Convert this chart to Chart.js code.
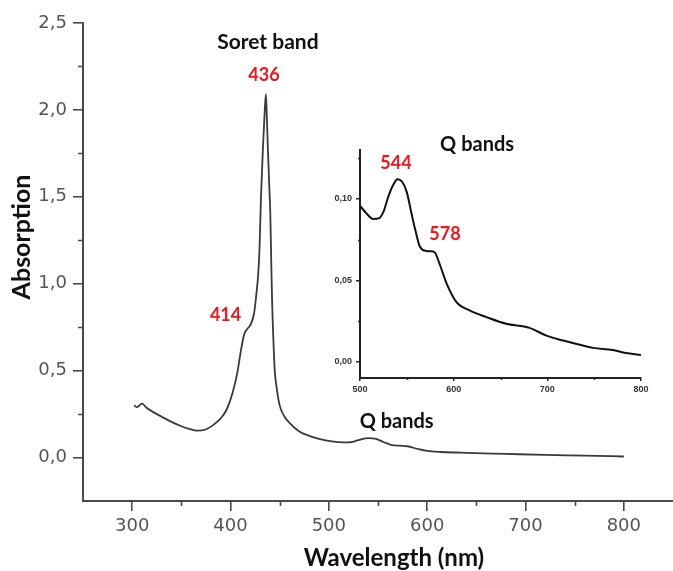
<!DOCTYPE html>
<html>
<head>
<meta charset="utf-8">
<title>Absorption spectrum</title>
<script src="https://cdn.jsdelivr.net/npm/chart.js@4.4.0/dist/chart.umd.min.js"></script>
<style>
    html, body { margin: 0; padding: 0; background: #fff; }
    #wrap { position: relative; width: 673px; height: 571px; }
    #main-chart { position: absolute; left: 0; top: 0; }
    #inset-chart { position: absolute; left: 320px; top: 128px; }
</style>
</head>
<body>
<div id="wrap">
    <canvas id="main-chart" width="673" height="571"></canvas>
    <canvas id="inset-chart" width="345" height="282"></canvas>
</div>
<script>
// Full spectrum
const wavelength = [302, 305, 310, 315, 322, 330, 340, 350, 358, 366, 374, 382, 390, 396, 402, 407, 411, 414, 417, 420, 424, 426.3, 428, 429.5, 431, 433, 434.5, 436, 437, 438, 439.3, 440.5, 441.5, 442.3, 443, 444, 445, 447, 450, 455, 460, 470, 480, 490, 503, 515, 522, 530, 540, 548, 556, 564, 572, 580, 590, 600, 615, 640, 680, 720, 760, 800];
const absorption = [0.30, 0.29, 0.31, 0.285, 0.26, 0.235, 0.205, 0.18, 0.165, 0.155, 0.16, 0.185, 0.225, 0.275, 0.37, 0.49, 0.63, 0.71, 0.74, 0.76, 0.83, 0.94, 1.04, 1.2, 1.5, 1.78, 1.96, 2.09, 1.95, 1.78, 1.58, 1.4, 1.11, 0.9, 0.77, 0.62, 0.5, 0.4, 0.3, 0.235, 0.2, 0.15, 0.125, 0.108, 0.093, 0.087, 0.088, 0.1, 0.112, 0.107, 0.088, 0.072, 0.068, 0.065, 0.05, 0.038, 0.032, 0.027, 0.021, 0.015, 0.011, 0.006];

// Q band region (inset)
const qWavelength = [500, 507, 514, 520, 525, 530, 535, 540, 545, 550, 555, 559, 564, 571, 576, 580, 585, 592.5, 603, 617, 635, 656, 681, 699, 717, 738, 749, 770, 781, 800];
const qAbsorption = [0.0957, 0.091, 0.0877, 0.088, 0.092, 0.101, 0.108, 0.112, 0.1105, 0.104, 0.091, 0.081, 0.0706, 0.068, 0.0678, 0.067, 0.06, 0.048, 0.0366, 0.0315, 0.0274, 0.0233, 0.0208, 0.016, 0.013, 0.0099, 0.0085, 0.0072, 0.0057, 0.0041];

// Tick values
const mainXTicks = [300, 400, 500, 600, 700, 800];
const mainXMinor = [350, 450, 550, 650, 750];
const mainYTicks = [0, 0.5, 1.0, 1.5, 2.0, 2.5];
const mainYMinor = [0.25, 0.75, 1.25, 1.75, 2.25];
const qXTicks = [500, 600, 700, 800];
const qXMinor = [550, 650, 750];
const qYTicks = [0, 0.05, 0.10];
const qYMinor = [0.025, 0.075, 0.125];

const TITLE_FONT = 'Lato, "Open Sans", sans-serif';

// Draws short minor tick marks and free text (peak labels, axis titles)
const extras = {
    id: 'extras',
    afterDraw(chart, args, opts) {
        const ctx = chart.ctx;
        const x = chart.scales.x, y = chart.scales.y;
        ctx.save();
        ctx.strokeStyle = opts.tickColor;
        ctx.lineWidth = opts.tickWidth;
        ctx.beginPath();
        (opts.xMinor || []).forEach(v => {
            const px = Math.round(x.getPixelForValue(v)) + 0.5;
            ctx.moveTo(px, x.top);
            ctx.lineTo(px, x.top + opts.minorLength);
        });
        (opts.yMinor || []).forEach(v => {
            const py = Math.round(y.getPixelForValue(v)) + 0.5;
            ctx.moveTo(y.right, py);
            ctx.lineTo(y.right - opts.minorLength, py);
        });
        ctx.stroke();

        ctx.textAlign = 'center';
        ctx.textBaseline = 'middle';
        (opts.labels || []).forEach(t => {
            ctx.font = t.font;
            ctx.fillStyle = t.color;
            ctx.fillText(t.text, x.getPixelForValue(t.x), y.getPixelForValue(t.y));
        });
        (opts.titles || []).forEach(t => {
            ctx.save();
            ctx.font = t.font;
            ctx.fillStyle = t.color;
            ctx.translate(t.px, t.py);
            ctx.rotate(t.rotate || 0);
            ctx.fillText(t.text, 0, 0);
            ctx.restore();
        });
        ctx.restore();
    }
};

function useTicks(values) {
    return scale => { scale.ticks = values.map(v => ({ value: v })); };
}

// Main spectrum
new Chart(document.getElementById('main-chart'), {
    type: 'line',
    data: {
        datasets: [{
            data: wavelength.map((w, i) => ({ x: w, y: absorption[i] })),
            borderColor: '#3a3a3a',
            borderWidth: 1.8,
            pointRadius: 0,
            cubicInterpolationMode: 'monotone',
            fill: false
        }]
    },
    options: {
        responsive: false,
        animation: false,
        layout: { padding: { top: 23, right: 0, bottom: 0, left: 0 } },
        plugins: {
            legend: { display: false },
            tooltip: { enabled: false },
            extras: {
                tickColor: '#4a4a4a',
                tickWidth: 1.6,
                minorLength: 5,
                xMinor: mainXMinor,
                yMinor: mainYMinor,
                labels: [
                    { text: 'Soret band', x: 438, y: 2.39, font: 'bold 21px ' + TITLE_FONT, color: '#111' },
                    { text: '436', x: 434, y: 2.2, font: 'bold 18px ' + TITLE_FONT, color: '#f5141a' },
                    { text: '414', x: 395, y: 0.82, font: 'bold 18px ' + TITLE_FONT, color: '#f5141a' },
                    { text: 'Q bands', x: 569, y: 0.205, font: 'bold 20px ' + TITLE_FONT, color: '#111' }
                ],
                titles: [
                    { text: 'Wavelength (nm)', px: 394, py: 558, font: 'bold 24px ' + TITLE_FONT, color: '#111' },
                    { text: 'Absorption', px: 22, py: 237, rotate: -Math.PI / 2, font: 'bold 25px ' + TITLE_FONT, color: '#111' }
                ]
            }
        },
        scales: {
            x: {
                type: 'linear',
                min: 250,
                max: 850,
                afterFit: scale => { scale.height = 70; },
                afterBuildTicks: useTicks(mainXTicks),
                border: { color: '#4a4a4a', width: 2 },
                grid: { drawOnChartArea: false, tickLength: 10, color: '#4a4a4a', lineWidth: 1.6 },
                ticks: { color: '#555', padding: 5, font: { family: 'DejaVu Sans', size: 18 }, maxRotation: 0 }
            },
            y: {
                min: -0.25,
                max: 2.5,
                afterFit: scale => { scale.width = 83; },
                afterBuildTicks: useTicks(mainYTicks),
                border: { color: '#4a4a4a', width: 2 },
                grid: { drawOnChartArea: false, tickLength: 10, color: '#4a4a4a', lineWidth: 1.6 },
                ticks: {
                    color: '#555',
                    padding: 6,
                    font: { family: 'DejaVu Sans', size: 18 },
                    callback: v => v.toFixed(1).replace('.', ',')
                }
            }
        }
    },
    plugins: [extras]
});

// Inset: Q bands
new Chart(document.getElementById('inset-chart'), {
    type: 'line',
    data: {
        datasets: [{
            data: qWavelength.map((w, i) => ({ x: w, y: qAbsorption[i] })),
            borderColor: '#111',
            borderWidth: 2,
            pointRadius: 0,
            cubicInterpolationMode: 'monotone',
            fill: false
        }]
    },
    options: {
        responsive: false,
        animation: false,
        layout: { padding: { top: 22, right: 24, bottom: 0, left: 0 } },
        plugins: {
            legend: { display: false },
            tooltip: { enabled: false },
            extras: {
                tickColor: '#222',
                tickWidth: 1.5,
                minorLength: 2,
                xMinor: qXMinor,
                yMinor: qYMinor,
                labels: [
                    { text: 'Q bands', x: 625, y: 0.1333, font: 'bold 20px ' + TITLE_FONT, color: '#111' },
                    { text: '544', x: 538.4, y: 0.1219, font: 'bold 18px ' + TITLE_FONT, color: '#f5141a' },
                    { text: '578', x: 590.7, y: 0.0781, font: 'bold 18px ' + TITLE_FONT, color: '#f5141a' }
                ]
            }
        },
        scales: {
            x: {
                type: 'linear',
                min: 500,
                max: 800,
                afterFit: scale => { scale.height = 32; },
                afterBuildTicks: useTicks(qXTicks),
                border: { color: '#222', width: 2 },
                grid: { drawOnChartArea: false, tickLength: 3, color: '#222', lineWidth: 1.5 },
                ticks: { color: '#333', padding: 3, font: { family: 'Liberation Sans', size: 9, weight: 'bold' }, maxRotation: 0 }
            },
            y: {
                min: -0.01,
                max: 0.13,
                afterFit: scale => { scale.width = 40; },
                afterBuildTicks: useTicks(qYTicks),
                border: { color: '#222', width: 2 },
                grid: { drawOnChartArea: false, tickLength: 4, color: '#222', lineWidth: 1.5 },
                ticks: {
                    color: '#333',
                    padding: 4,
                    font: { family: 'Liberation Sans', size: 9, weight: 'bold' },
                    callback: v => v.toFixed(2).replace('.', ',')
                }
            }
        }
    },
    plugins: [extras]
});
</script>
</body>
</html>
